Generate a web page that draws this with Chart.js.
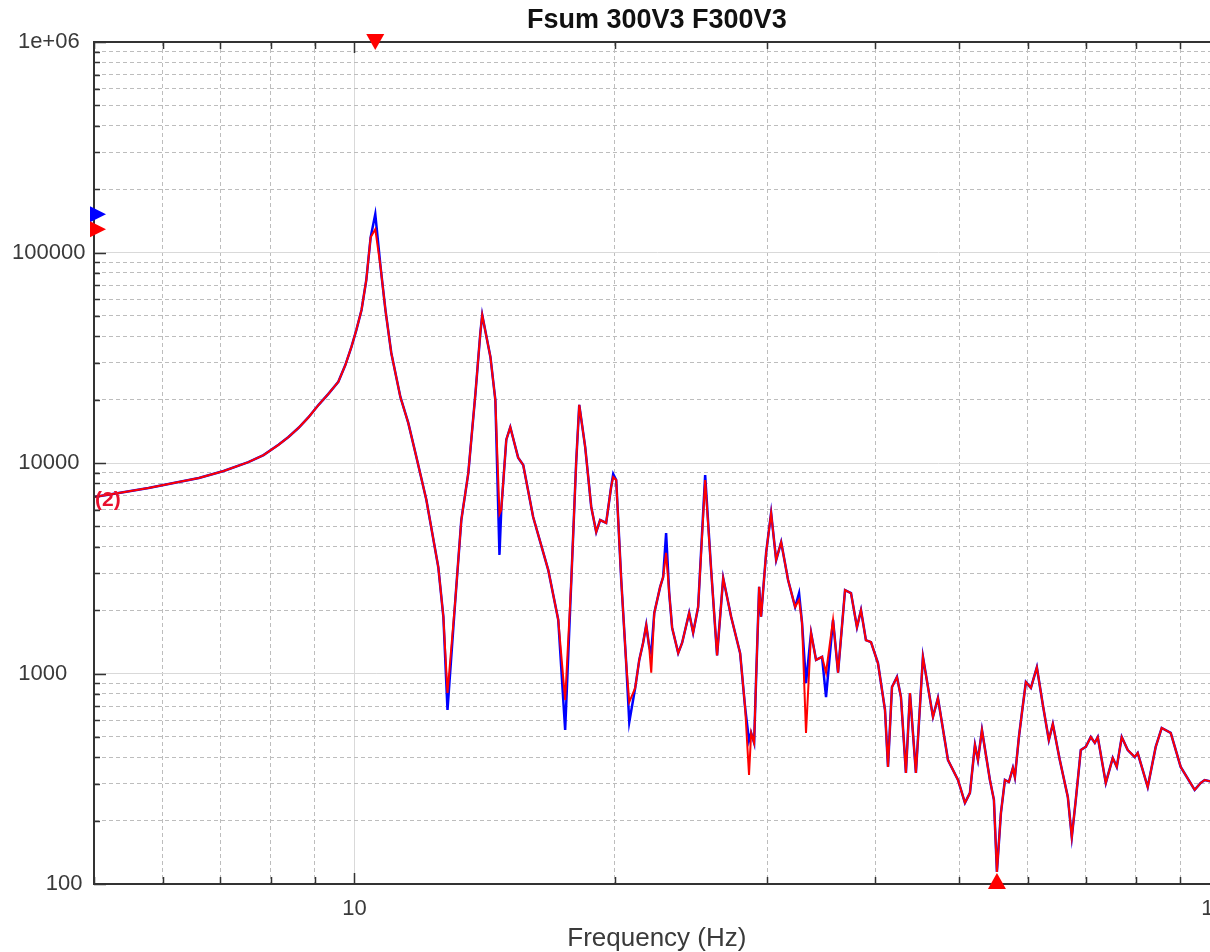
<!DOCTYPE html>
<html>
<head>
<meta charset="utf-8">
<title>Fsum 300V3 F300V3</title>
<script src="https://cdn.jsdelivr.net/npm/chart.js@4.4.1/dist/chart.umd.min.js"></script>
<style>
    html, body { margin: 0; padding: 0; overflow: hidden; background: #fff; }
    canvas { display: block; }
</style>
</head>
<body>
<canvas id="fsumChart" width="1250" height="952"></canvas>
<script>
// frequency axis (Hz)
const freqs = [
    5.0, 5.34, 5.78, 6.18, 6.61, 7.06, 7.54, 7.85, 8.17, 8.39,
    8.62, 8.85, 9.09, 9.33, 9.58, 9.76, 9.92, 10.05, 10.19, 10.32,
    10.44, 10.57, 10.72, 10.86, 11.03, 11.30, 11.54, 11.79, 12.11, 12.50,
    12.67, 12.81, 13.08, 13.29, 13.54, 13.80, 13.98, 14.05, 14.36, 14.55,
    14.71, 14.78, 14.98, 15.14, 15.46, 15.67, 16.09, 16.75, 17.20, 17.52,
    17.81, 18.04, 18.19, 18.48, 18.78, 19.03, 19.23, 19.54, 19.80, 19.91,
    20.07, 20.34, 20.61, 20.78, 21.11, 21.34, 21.56, 21.74, 21.91, 22.03,
    22.21, 22.56, 22.74, 22.92, 23.11, 23.29, 23.67, 23.92, 24.37, 24.63,
    24.96, 25.43, 25.84, 26.25, 26.68, 27.25, 27.91, 28.28, 28.58, 28.74,
    28.97, 29.12, 29.36, 29.51, 29.91, 30.31, 30.72, 31.13, 31.71, 32.31,
    32.65, 32.91, 33.26, 33.71, 34.16, 34.71, 35.08, 35.74, 36.22, 36.90,
    37.49, 38.09, 38.50, 39.01, 39.54, 40.28, 41.04, 41.37, 41.81, 42.37,
    42.82, 43.39, 43.86, 44.56, 45.40, 46.63, 47.25, 48.53, 49.84, 50.77,
    51.45, 52.14, 52.56, 53.12, 54.26, 54.84, 55.28, 55.87, 56.47, 57.07,
    57.68, 57.99, 58.61, 59.08, 59.71, 60.51, 61.48, 62.47, 63.47, 64.15,
    65.35, 66.76, 67.47, 68.19, 69.11, 70.03, 70.97, 71.73, 72.30, 73.86,
    75.24, 76.05, 77.06, 78.30, 79.77, 80.41, 82.58, 84.35, 85.71, 87.79,
    90.15, 93.57, 95.08, 96.09, 100
];

// F300V3 (red curve, drawn on top)
const redVals = [
    6900, 7200, 7600, 8040, 8490, 9160, 10100, 10900, 12200, 13300,
    14700, 16500, 18900, 21300, 24300, 29200, 35600, 42800, 53300, 74000,
    118000, 129000, 85300, 53300, 33300, 20600, 15500, 10700, 6670, 3200,
    1860, 808, 2240, 5360, 8970, 21500, 41500, 50500, 31900, 19900,
    5720, 5980, 12900, 14800, 10600, 9780, 5540, 3100, 1800, 748,
    2780, 10000, 18900, 11900, 6180, 4700, 5360, 5190, 7690, 8580,
    8300, 2780, 1120, 732, 854, 1160, 1400, 1700, 1340, 1010,
    1940, 2580, 2870, 3740, 2410, 1650, 1250, 1400, 1940, 1560,
    2070, 8300, 3100, 1220, 2840, 1860, 1250, 693, 330, 522,
    468, 931, 2580, 1860, 3740, 5790, 3460, 4210, 2780, 2070,
    2240, 1740, 522, 1560, 1160, 1200, 1010, 1800, 1010, 2490,
    2410, 1660, 2000, 1440, 1410, 1120, 671, 360, 863, 963,
    773, 337, 808, 337, 1200, 622, 765, 388, 312, 243,
    271, 458, 388, 539, 312, 251, 114, 217, 312, 305,
    356, 322, 499, 649, 911, 854, 1070, 709, 483, 576,
    388, 259, 167, 251, 433, 448, 499, 468, 499, 302,
    397, 360, 499, 433, 401, 419, 289, 448, 551, 522,
    360, 280, 302, 312, 300
];

// Fsum 300V3 (blue curve, mostly hidden under the red one)
const blueVals = [
    6900, 7200, 7600, 8040, 8490, 9160, 10100, 10900, 12200, 13300,
    14700, 16500, 18900, 21300, 24300, 29200, 35600, 42800, 53300, 74000,
    118000, 152000, 85300, 53300, 33300, 20600, 15500, 10700, 6670, 3200,
    1860, 671, 2240, 5360, 8970, 21500, 41500, 50500, 31900, 19900,
    3660, 5980, 12900, 14800, 10600, 9780, 5540, 3100, 1800, 539,
    2780, 10000, 18900, 11900, 6180, 4700, 5360, 5190, 7690, 8870,
    8300, 2780, 1120, 588, 854, 1160, 1400, 1700, 1340, 1250,
    1940, 2580, 2870, 4650, 2410, 1650, 1250, 1400, 1940, 1560,
    2070, 8770, 3100, 1220, 2840, 1860, 1250, 693, 480, 522,
    468, 931, 2580, 1860, 3740, 5790, 3460, 4210, 2780, 2070,
    2410, 1740, 900, 1560, 1160, 1200, 773, 1800, 1010, 2490,
    2410, 1660, 2000, 1440, 1410, 1120, 671, 360, 863, 963,
    773, 337, 808, 337, 1200, 622, 765, 388, 312, 243,
    271, 458, 388, 539, 312, 251, 114, 217, 312, 305,
    356, 322, 499, 649, 911, 854, 1070, 709, 483, 576,
    388, 259, 167, 251, 433, 448, 499, 468, 499, 302,
    397, 360, 499, 433, 401, 419, 289, 448, 551, 522,
    360, 280, 302, 312, 300
];

// axis ticks
const decades = [10, 100, 1000, 10000, 100000, 1000000];
const xTicks = [5, 6, 7, 8, 9, 10, 20, 30, 40, 50, 60, 70, 80, 90, 100];
const yTicks = [100, 1000, 10000, 100000]
    .flatMap(d => [1, 2, 3, 4, 5, 6, 7, 8, 9].map(m => m * d))
    .concat([1000000]);
// y labels sit a bit unevenly in the original, hence the padding spaces
const yLabels = { 100: '     100', 1000: '1000  ', 10000: '10000', 100000: '100000', 1000000: '1e+06' };
const xLabels = { 10: '10', 100: '100' };

const isDecade = v => decades.includes(v);

Chart.defaults.font.family = '"Liberation Sans", Arial, sans-serif';

// frame, inward tick marks, max/min markers and the "(2)" tag
const frameMarks = {
    id: 'frameMarks',
    afterDraw(chart) {
        const { ctx, chartArea: a, scales: { x, y } } = chart;
        ctx.save();
        ctx.strokeStyle = '#333';
        ctx.lineWidth = 2;
        ctx.strokeRect(a.left, a.top, a.right - a.left, a.bottom - a.top);

        ctx.lineWidth = 1.5;
        ctx.beginPath();
        xTicks.forEach(v => {
            const px = Math.round(x.getPixelForValue(v)) + 0.5;
            const len = isDecade(v) ? 11 : 7;
            ctx.moveTo(px, a.bottom); ctx.lineTo(px, a.bottom - len);
            ctx.moveTo(px, a.top); ctx.lineTo(px, a.top + len);
        });
        yTicks.forEach(v => {
            const py = Math.round(y.getPixelForValue(v)) + 0.5;
            const len = isDecade(v) ? 12 : 6;
            ctx.moveTo(a.left, py); ctx.lineTo(a.left + len, py);
        });
        ctx.stroke();

        const tri = (pts, color) => {
            ctx.fillStyle = color;
            ctx.beginPath();
            ctx.moveTo(pts[0], pts[1]);
            ctx.lineTo(pts[2], pts[3]);
            ctx.lineTo(pts[4], pts[5]);
            ctx.closePath();
            ctx.fill();
        };
        const redMax = Math.max(...redVals);
        const redMin = Math.min(...redVals);
        const blueMax = Math.max(...blueVals);
        const yb = y.getPixelForValue(blueMax);
        const yr = y.getPixelForValue(redMax);
        tri([a.left - 4, yb - 8, a.left - 4, yb + 8, a.left + 12, yb], '#0000ff');
        tri([a.left - 4, yr - 8, a.left - 4, yr + 8, a.left + 12, yr], '#ff0000');
        const xp = x.getPixelForValue(freqs[redVals.indexOf(redMax)]);
        tri([xp - 9, a.top - 8, xp + 9, a.top - 8, xp, a.top + 8], '#ff0000');
        const xm = x.getPixelForValue(freqs[redVals.indexOf(redMin)]);
        tri([xm - 9, a.bottom + 5, xm + 9, a.bottom + 5, xm, a.bottom - 11], '#ff0000');

        ctx.fillStyle = '#e8102e';
        ctx.font = 'bold 21px "Liberation Sans", Arial, sans-serif';
        ctx.textBaseline = 'middle';
        ctx.fillText('(2)', a.left + 1, y.getPixelForValue(redVals[0]) + 3);
        ctx.restore();
    }
};

document.addEventListener('DOMContentLoaded', () => {
    const ctx = document.getElementById('fsumChart').getContext('2d');
    const fsumChart = new Chart(ctx, {
        type: 'line',
        data: {
            datasets: [{
                label: 'F300V3',
                data: freqs.map((f, i) => ({ x: f, y: redVals[i] })),
                borderColor: '#ff0000',
                borderWidth: 2,
                pointRadius: 0,
                tension: 0,
                fill: false
            }, {
                label: 'Fsum 300V3',
                data: freqs.map((f, i) => ({ x: f, y: blueVals[i] })),
                borderColor: '#0000ff',
                borderWidth: 2.5,
                pointRadius: 0,
                tension: 0,
                fill: false
            }]
        },
        options: {
            responsive: false,
            animation: false,
            devicePixelRatio: 1,
            layout: { padding: { right: 29 } },
            plugins: {
                legend: { display: false },
                tooltip: { enabled: false },
                title: {
                    display: true,
                    fullSize: false,
                    text: 'Fsum 300V3 F300V3',
                    color: '#111',
                    font: { size: 27, weight: 'bold' },
                    padding: { top: 4, bottom: 5.6 }
                }
            },
            scales: {
                x: {
                    type: 'logarithmic',
                    min: 5,
                    max: 100,
                    afterBuildTicks: s => { s.ticks = xTicks.map(v => ({ value: v })); },
                    afterFit: s => { s.height = 68; },
                    ticks: {
                        autoSkip: false,
                        maxRotation: 0,
                        padding: 12,
                        color: '#3a3a3a',
                        font: { size: 22 },
                        callback: v => xLabels[v] || ''
                    },
                    grid: {
                        drawTicks: false,
                        color: c => c.tick && isDecade(c.tick.value) ? '#d9d9d9' : '#bdbdbd'
                    },
                    border: {
                        color: '#333',
                        width: 2,
                        dash: c => c.tick && !isDecade(c.tick.value) ? [4, 3] : []
                    },
                    title: {
                        display: true,
                        text: 'Frequency (Hz)',
                        color: '#3a3a3a',
                        font: { size: 26, lineHeight: 1 },
                        padding: 0
                    }
                },
                y: {
                    type: 'logarithmic',
                    min: 100,
                    max: 1000000,
                    afterBuildTicks: s => { s.ticks = yTicks.map(v => ({ value: v })); },
                    afterFit: s => { s.width = 94; },
                    ticks: {
                        autoSkip: false,
                        crossAlign: 'center',
                        padding: 8.5,
                        color: '#3a3a3a',
                        font: { size: 22 },
                        callback: v => yLabels[v] || ''
                    },
                    grid: {
                        drawTicks: false,
                        color: c => c.tick && isDecade(c.tick.value) ? '#d9d9d9' : '#bdbdbd'
                    },
                    border: {
                        color: '#333',
                        width: 2,
                        dash: c => c.tick && !isDecade(c.tick.value) ? [4, 3] : []
                    }
                }
            }
        },
        plugins: [frameMarks]
    });
});
</script>
</body>
</html>
